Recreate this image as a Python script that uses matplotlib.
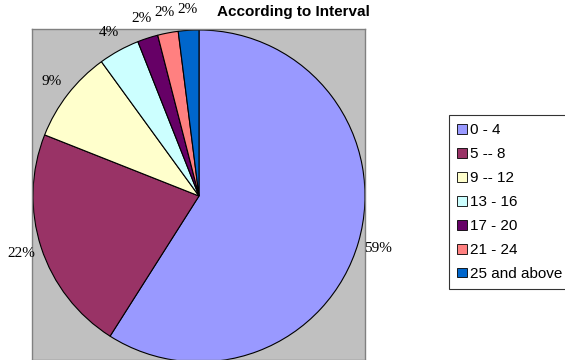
import matplotlib
matplotlib.use("Agg")
import matplotlib.pyplot as plt
from matplotlib.patches import Patch

categories = ["0 - 4", "5 -- 8", "9 -- 12", "13 - 16", "17 - 20", "21 - 24", "25 and above"]
values = [59, 22, 9, 4, 2, 2, 2]
pct_labels = ["59%", "22%", "9%", "4%", "2%", "2%", "2%"]
colors = ["#9999FF", "#993366", "#FFFFCC", "#CCFFFF", "#660066", "#FF8080", "#0066CC"]
title = "According to Interval"

W, H = 565, 360
fig = plt.figure(figsize=(W / 100, H / 100), dpi=100)
fig.patch.set_facecolor("white")

# plot area in pixels: x 32..365, y 29..360
x0, x1, y0, y1 = 32, 365, 29, 360
ax = fig.add_axes([x0 / W, 1 - y1 / H, (x1 - x0) / W, (y1 - y0) / H])
cx, cy, r = 199, H - 196, 166

wedges, texts = ax.pie(values, labels=pct_labels, colors=colors, startangle=90,
                       counterclock=False, center=(cx, cy), radius=r,
                       labeldistance=1.125,
                       wedgeprops=dict(edgecolor="black", linewidth=0.8),
                       textprops=dict(family="Liberation Serif", fontsize=11, color="black"))
for t in texts:
    t.set_clip_on(False)
    t.set_ha("center")
    t.set_va("center")
ax.set_frame_on(True)
ax.set_facecolor("#C0C0C0")
ax.set_xlim(x0, x1)
ax.set_ylim(H - y1, H - y0)
ax.set_aspect("auto")
ax.set_xticks([])
ax.set_yticks([])
for s in ax.spines.values():
    s.set_color("#808080")
    s.set_linewidth(1.0)

fig.text(293 / W, 1 - 12 / H, title, ha="center", va="center",
         family="Liberation Sans", fontweight="bold", fontsize=11)

handles = [Patch(facecolor=c, edgecolor="black", linewidth=0.6) for c in colors]
leg = fig.legend(handles, categories, loc="upper left",
                 bbox_to_anchor=(449 / W, 1 - 115 / H),
                 prop=dict(family="Liberation Sans", size=11),
                 frameon=True, fancybox=False, handlelength=0.6, handleheight=0.6,
                 handletextpad=0.25, labelspacing=0.65, borderpad=0.55,
                 borderaxespad=0)
leg.get_frame().set_edgecolor("black")
leg.get_frame().set_linewidth(0.8)

fig.savefig("out.png", dpi=100)
